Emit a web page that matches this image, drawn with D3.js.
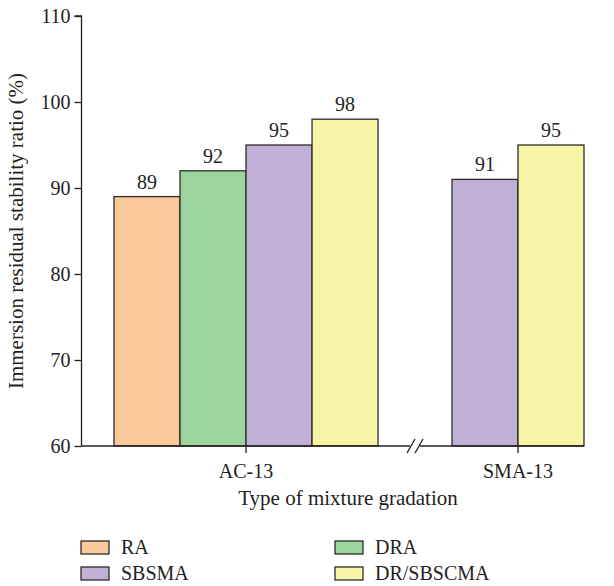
<!DOCTYPE html>
<html>
<head>
<meta charset="utf-8">
<script src="https://d3js.org/d3.v7.min.js"></script>
<style>
  body { margin: 0; background: #fff; }
  text { font-family: "Liberation Serif", "DejaVu Serif", serif; fill: #231f20; }
</style>
</head>
<body>
<svg id="chart" width="614" height="586"></svg>
<script>
// Gradations on the x axis and mixtures drawn in each
const gradations = ["AC-13", "SMA-13"];
const series = ["RA", "DRA", "SBSMA", "DR/SBSCMA"];
const colors = ["#f9c89b", "#9dd39c", "#c1b0d6", "#f7f4a5"];
// Residual stability ratio (%) per gradation, in series order (null = not tested)
const ac13Values = [89, 92, 95, 98];
const sma13Values = [null, null, 91, 95];
const yTicks = [60, 70, 80, 90, 100, 110];

const svg = d3.select("#chart");
const axisX = 81.5, baseY = 446;
const fs = 20;

const y = d3.scaleLinear().domain([60, 110]).range([baseY, 16]);

// Slot-based horizontal layout: each bar occupies one slot
const groupStarts = [0, 5.12];
const x = d3.scaleLinear().domain([0, 7.12]).range([114, 584]);
const barW = x(1) - x(0);

const bars = [];
[ac13Values, sma13Values].forEach((vals, gi) => {
  const present = vals.map((v, i) => ({ v, i })).filter(d => d.v != null);
  present.forEach((d, k) => bars.push({
    group: gi, series: d.i, value: d.v, slot: groupStarts[gi] + k
  }));
});

// Bars
svg.append("g").selectAll("rect").data(bars).join("rect")
  .attr("x", d => x(d.slot))
  .attr("y", d => y(d.value))
  .attr("width", barW)
  .attr("height", d => baseY - y(d.value))
  .attr("fill", d => colors[d.series])
  .attr("stroke", "#2b2b2b")
  .attr("stroke-width", 1.3);

// Value labels
svg.append("g").selectAll("text").data(bars).join("text")
  .attr("x", d => x(d.slot) + barW / 2)
  .attr("y", d => y(d.value) - 8)
  .attr("text-anchor", "middle")
  .attr("font-size", fs)
  .text(d => d.value);

// Y axis
const yAxis = svg.append("g").attr("transform", `translate(${axisX},0)`)
  .call(d3.axisLeft(y).tickValues(yTicks).tickSize(7).tickPadding(4));
yAxis.select(".domain").attr("stroke", "#231f20").attr("stroke-width", 1.3).attr("d", `M-7,${y(110)}H0V${baseY}`);
yAxis.selectAll(".tick line").attr("stroke", "#231f20").attr("stroke-width", 1.3);
yAxis.selectAll(".tick text").attr("font-size", fs).attr("font-family", "Liberation Serif, serif").attr("fill", "#231f20");

// X axis with a break between the gradations
const breakX = x(4.56);
const xa = svg.append("g").attr("stroke", "#231f20").attr("stroke-width", 1.3).attr("fill", "none");
xa.append("line").attr("x1", axisX).attr("x2", breakX - 5).attr("y1", baseY).attr("y2", baseY);
xa.append("line").attr("x1", breakX + 5).attr("x2", x(7.12)).attr("y1", baseY).attr("y2", baseY);
[-4, 4].forEach(dx => {
  xa.append("line")
    .attr("x1", breakX + dx - 4).attr("y1", baseY + 7)
    .attr("x2", breakX + dx + 4).attr("y2", baseY - 7);
});

// Group ticks and labels
const groupCenters = gradations.map((g, gi) => {
  const n = [ac13Values, sma13Values][gi].filter(v => v != null).length;
  return x(groupStarts[gi] + n / 2);
});
gradations.forEach((g, gi) => {
  xa.append("line").attr("x1", groupCenters[gi]).attr("x2", groupCenters[gi])
    .attr("y1", baseY).attr("y2", baseY + 7);
  svg.append("text").attr("x", groupCenters[gi]).attr("y", baseY + 32)
    .attr("text-anchor", "middle").attr("font-size", fs).text(g);
});

// Axis titles
svg.append("text").attr("x", 348).attr("y", 505)
  .attr("text-anchor", "middle").attr("font-size", 21).text("Type of mixture gradation");
svg.append("text")
  .attr("transform", `translate(23,${(y(110) + baseY) / 2}) rotate(-90)`)
  .attr("text-anchor", "middle").attr("font-size", 21)
  .text("Immersion residual stability ratio (%)");

// Legend (two columns)
const legend = svg.append("g").selectAll("g").data(series).join("g")
  .attr("transform", (d, i) => `translate(${i % 2 === 0 ? 81 : 335},${i < 2 ? 541 : 567})`);
legend.append("rect").attr("width", 28).attr("height", 13)
  .attr("fill", (d, i) => colors[i]).attr("stroke", "#2b2b2b").attr("stroke-width", 1.3);
legend.append("text").attr("x", 40).attr("y", 13).attr("font-size", fs).text(d => d);
</script>
</body>
</html>
